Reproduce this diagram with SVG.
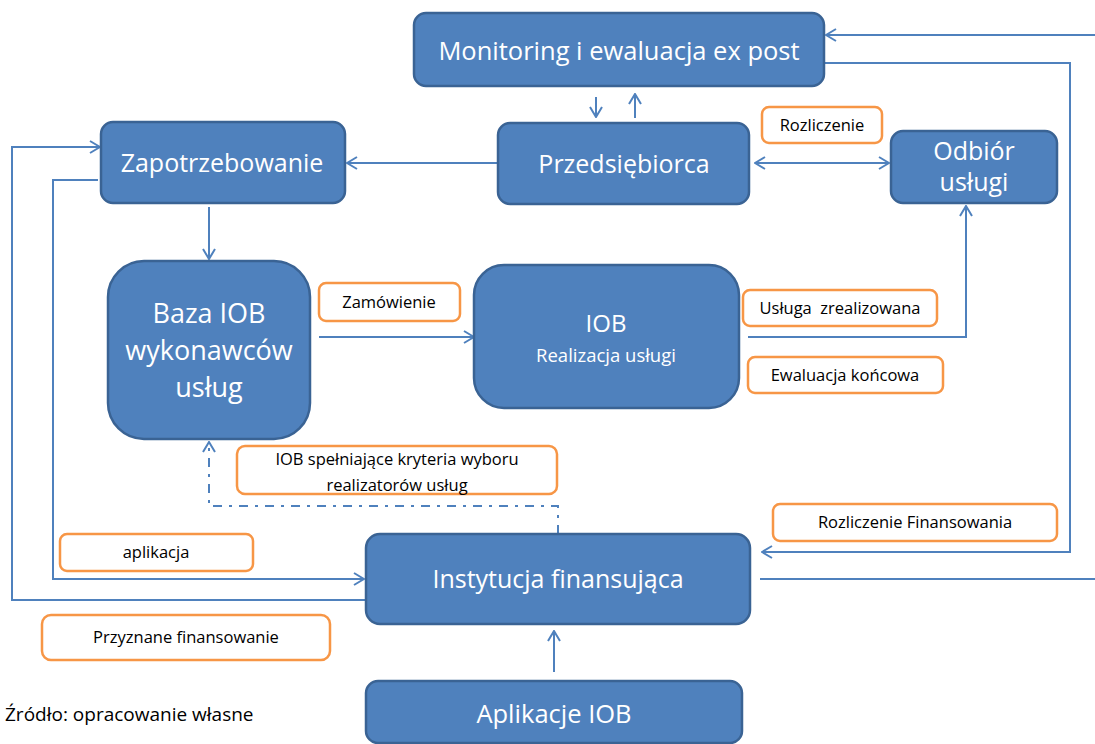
<svg xmlns="http://www.w3.org/2000/svg" width="1095" height="744" viewBox="0 0 1095 744">
<style>
.node{fill:#4F81BD;stroke:#3A6394;stroke-width:2.5}
.nt{font-family:"Open Sans","Liberation Sans",sans-serif;fill:#ffffff;text-anchor:middle}
.lbl{fill:#ffffff;stroke:#F79646;stroke-width:2.5}
.lt{font-family:"Open Sans","Liberation Sans",sans-serif;fill:#000000;text-anchor:middle;font-size:16.5px}
.c{fill:none;stroke:#4F81BD;stroke-width:2}
.ce{marker-end:url(#ah)}
</style>
<defs>
<marker id="ah" viewBox="0 0 12 14" refX="11" refY="7" markerWidth="12" markerHeight="14" orient="auto-start-reverse" markerUnits="userSpaceOnUse">
<path d="M1,1 L11,7 L1,13" fill="none" stroke="#4F81BD" stroke-width="2"/>
</marker>
</defs>
<rect width="1095" height="744" fill="#ffffff"/>
<g id="connectors">
<path class="c ce" d="M596,97 V117"/>
<path class="c ce" d="M635,118 V94"/>
<path class="c ce" d="M498,163 H347"/>
<path class="c ce" d="M755,163 H889" marker-start="url(#ah)"/>
<path class="c ce" d="M1095,35 H826"/>
<path class="c ce" d="M824,63 H1070 V552 H762"/>
<path class="c" d="M760,579 H1095"/>
<path class="c ce" d="M748,337 H966 V206"/>
<path class="c ce" d="M209,207 V259"/>
<path class="c ce" d="M319,337 H474"/>
<path class="c ce" d="M558,534 V506 H209 V442" stroke-dasharray="9,7,3,7"/>
<path class="c ce" d="M366,600 H12 V147 H100"/>
<path class="c ce" d="M98,180 H53 V579 H364"/>
<path class="c ce" d="M554,672 V631"/>
</g>
<g id="monitoring"><rect class="node" x="414" y="13" width="410" height="73" rx="12"/><text class="nt" x="619" y="60" font-size="25.5">Monitoring i ewaluacja ex post</text></g>
<g id="zapotrzebowanie"><rect class="node" x="101" y="122" width="244" height="81" rx="12"/><text class="nt" x="222" y="172" font-size="25">Zapotrzebowanie</text></g>
<g id="przedsiebiorca"><rect class="node" x="498" y="123" width="251" height="81" rx="12"/><text class="nt" x="624" y="173" font-size="25">Przedsiębiorca</text></g>
<g id="odbior"><rect class="node" x="891" y="131" width="166" height="72" rx="12"/><text class="nt" x="974" y="160" font-size="25">Odbiór</text><text class="nt" x="974" y="191" font-size="25">usługi</text></g>
<g id="baza"><rect class="node" x="108" y="261" width="202" height="178" rx="36"/><text class="nt" x="209" y="323" font-size="27">Baza IOB</text><text class="nt" x="209" y="360" font-size="27">wykonawców</text><text class="nt" x="209" y="397" font-size="27">usług</text></g>
<g id="iob"><rect class="node" x="474" y="265" width="265" height="143" rx="30"/><text class="nt" x="606" y="332" font-size="24">IOB</text><text class="nt" x="606" y="362" font-size="18.5">Realizacja usługi</text></g>
<g id="instytucja"><rect class="node" x="366" y="534" width="384" height="90" rx="14"/><text class="nt" x="558" y="588" font-size="25">Instytucja finansująca</text></g>
<g id="aplikacje"><rect class="node" x="366" y="681" width="376" height="62" rx="12"/><text class="nt" x="554" y="723" font-size="25.5">Aplikacje IOB</text></g>
<g id="lbl-rozliczenie"><rect class="lbl" x="762" y="107" width="120" height="36" rx="7"/><text class="lt" x="822" y="131">Rozliczenie</text></g>
<g id="lbl-zamowienie"><rect class="lbl" x="319" y="283" width="141" height="38" rx="7"/><text class="lt" x="389" y="308">Zamówienie</text></g>
<g id="lbl-usluga"><rect class="lbl" x="743" y="290" width="194" height="36" rx="7"/><text class="lt" x="840" y="314" xml:space="preserve">Usługa  zrealizowana</text></g>
<g id="lbl-ewaluacja"><rect class="lbl" x="748" y="357" width="195" height="36" rx="7"/><text class="lt" x="845" y="381">Ewaluacja końcowa</text></g>
<g id="lbl-kryteria"><rect class="lbl" x="237" y="446" width="320" height="48" rx="8"/><text class="lt" x="397" y="465">IOB spełniające kryteria wyboru</text><text class="lt" x="397" y="491">realizatorów usług</text></g>
<g id="lbl-rozfin"><rect class="lbl" x="773" y="504" width="284" height="37" rx="7"/><text class="lt" x="915" y="528">Rozliczenie Finansowania</text></g>
<g id="lbl-aplikacja"><rect class="lbl" x="60" y="534" width="193" height="37" rx="7"/><text class="lt" x="156" y="558">aplikacja</text></g>
<g id="lbl-przyznane"><rect class="lbl" x="42" y="615" width="288" height="45" rx="9"/><text class="lt" x="186" y="643">Przyznane finansowanie</text></g>
<text x="5" y="721" font-family="Open Sans, Liberation Sans, sans-serif" font-size="19" fill="#000000">Źródło: opracowanie własne</text>
</svg>
